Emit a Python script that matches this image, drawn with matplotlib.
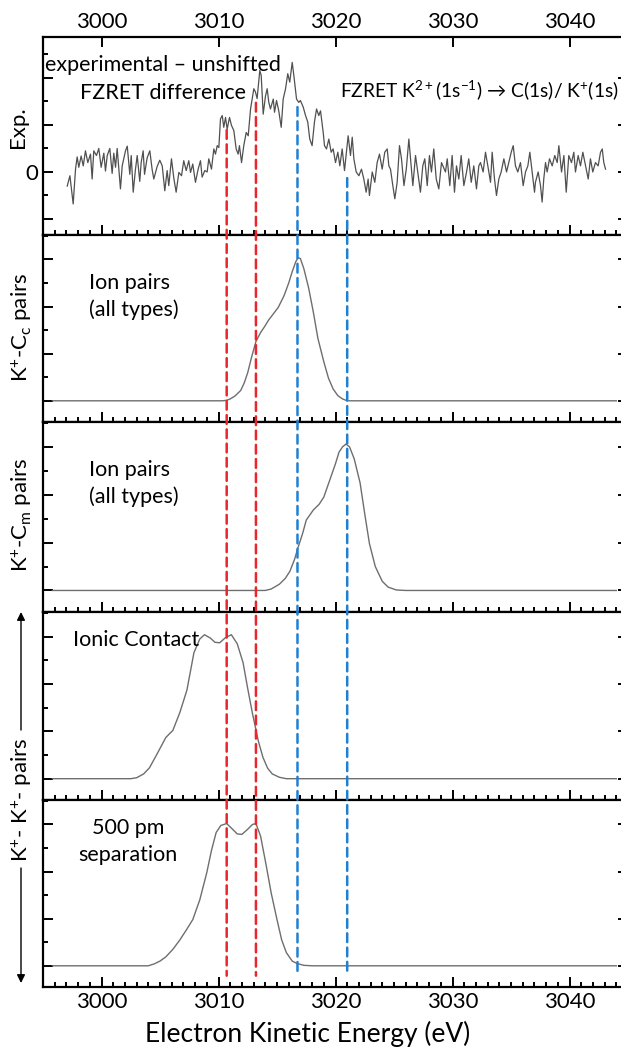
import numpy as np
import matplotlib.pyplot as plt
from matplotlib.patches import ConnectionPatch
from matplotlib.ticker import MultipleLocator, FixedLocator, FixedFormatter

plt.rcParams['font.family'] = ['Lato', 'DejaVu Sans']
plt.rcParams['mathtext.fontset'] = 'custom'
plt.rcParams['mathtext.rm'] = 'Lato'
plt.rcParams['mathtext.it'] = 'Lato:italic'

# experimental - unshifted FZRET difference (top panel)
exp_energy = [
    2997.07, 2997.30, 2997.58, 2997.78, 2997.92, 2998.06, 2998.26, 2998.44, 2998.63, 2998.83,
    2999.06, 2999.20, 2999.34, 2999.57, 2999.77, 2999.97, 3000.20, 3000.34, 3000.49, 3000.71,
    3000.91, 3001.05, 3001.20, 3001.34, 3001.62, 3001.77, 3002.05, 3002.20, 3002.42, 3002.54,
    3002.71, 3002.90, 3003.05, 3003.27, 3003.39, 3003.56, 3003.68, 3003.90, 3004.13, 3004.33,
    3004.47, 3004.76, 3004.98,
    3005.19, 3005.41, 3005.61, 3005.75, 3005.98, 3006.18, 3006.38, 3006.61, 3006.84, 3007.03,
    3007.24, 3007.46, 3007.61, 3007.80, 3008.03, 3008.26, 3008.46, 3008.60, 3008.83, 3009.03,
    3009.17, 3009.40, 3009.60, 3009.74, 3009.89, 3010.03, 3010.17, 3010.32, 3010.45, 3010.60,
    3010.74, 3010.94, 3011.11, 3011.31, 3011.51, 3011.68, 3011.79, 3011.97, 3012.16, 3012.37,
    3012.54, 3012.74, 3012.88, 3013.02,
    3013.16, 3013.30, 3013.53, 3013.65, 3013.82, 3014.02, 3014.16, 3014.30, 3014.44, 3014.68,
    3014.79, 3014.96, 3015.15, 3015.36, 3015.53, 3015.73, 3015.92, 3016.09, 3016.30, 3016.44,
    3016.67, 3016.86, 3017.00, 3017.24, 3017.44, 3017.63, 3017.80, 3018.00, 3018.20, 3018.38,
    3018.57, 3018.72, 3018.95, 3019.06, 3019.23, 3019.43, 3019.63, 3019.80, 3020.00, 3020.20,
    3020.37, 3020.57, 3020.77,
    3021.08, 3021.28, 3021.43, 3021.57, 3021.77, 3022.00, 3022.22, 3022.42, 3022.62, 3022.79,
    3022.90, 3023.14, 3023.36, 3023.56, 3023.76, 3023.99, 3024.21, 3024.42, 3024.56, 3024.70,
    3024.90, 3025.07, 3025.27, 3025.47, 3025.64, 3025.85, 3026.05, 3026.27, 3026.44, 3026.61,
    3026.84, 3027.07, 3027.26, 3027.46, 3027.63, 3027.84, 3028.03, 3028.20, 3028.40, 3028.61,
    3028.83, 3029.06,
    3029.40, 3029.55, 3029.77, 3029.97, 3030.17, 3030.34, 3030.54, 3030.74, 3030.97, 3031.20,
    3031.39, 3031.60, 3031.82, 3032.05, 3032.25, 3032.39, 3032.62, 3032.82, 3033.02, 3033.25,
    3033.39, 3033.59, 3033.76, 3033.96, 3034.16, 3034.39, 3034.62, 3034.81, 3035.02, 3035.19,
    3035.38, 3035.58, 3035.81, 3036.04, 3036.24, 3036.44, 3036.61, 3036.81, 3037.01,
    3037.09, 3037.32, 3037.52, 3037.66, 3037.80, 3037.95, 3038.09, 3038.29, 3038.52, 3038.74,
    3038.95, 3039.09, 3039.32, 3039.52, 3039.72, 3039.94, 3040.17, 3040.37, 3040.51, 3040.74,
    3040.94, 3041.14, 3041.37, 3041.60, 3041.79, 3041.99, 3042.22, 3042.45, 3042.65, 3042.80,
    3042.93, 3043.08]
exp_signal = [
    -0.30, -0.08, -0.68, 0.06, 0.32, 0.10, 0.34, 0.13, 0.45, 0.20,
    0.38, -0.15, 0.45, 0.35, 0.50, 0.10, 0.40, 0.02, 0.35, 0.50,
    -0.03, 0.40, 0.10, 0.50, -0.36, 0.13, 0.45, 0.55, -0.05, 0.35,
    -0.43, 0.05, 0.35, -0.20, 0.20, 0.45, -0.05, 0.30, 0.45, 0.05,
    -0.15, 0.12, 0.25,
    0.13, -0.40, 0.03, -0.29, 0.28, -0.13, -0.43, -0.01, -0.08, 0.24,
    0.03, 0.24, -0.01, 0.17, -0.22, 0.06, 0.24, -0.11, 0.03, 0.00,
    0.28, 0.06, 0.49, 0.38, 0.56, 0.52, 1.13, 1.20, 0.95, 1.16,
    0.91, 1.16, 0.99, 0.88, 0.49, 0.38, 0.56, 0.20, 0.56, 0.84,
    0.77, 1.34, 1.55, 1.77,
    1.70, 1.56, 2.16, 2.05, 1.23, 1.62, 1.77, 1.48, 1.34, 1.55,
    1.27, 1.52, 1.30, 0.95, 1.55, 1.77, 2.09, 1.91, 2.33, 2.05,
    1.55, 1.48, 1.52, 1.38, 1.20, 1.06, 0.70, 0.56, 1.06, 1.34,
    1.20, 1.30, 0.84, 0.56, 0.49, 0.70, 0.42, 0.49, 0.20, 0.42,
    0.13, 0.49, 0.03,
    0.77, 0.35, 0.74, 0.28, 0.00, -0.08, 0.06, -0.15, -0.43, -0.15,
    -0.50, 0.00, -0.22, 0.20, 0.38, 0.06, 0.42, 0.49, 0.13, 0.06,
    -0.29, -0.57, -0.22, 0.56, 0.28, -0.29, 0.06, 0.70, 0.20, -0.29,
    0.35, -0.08, -0.43, 0.13, 0.28, -0.29, 0.35, 0.00, 0.49, -0.15,
    -0.36, 0.20,
    0.00, 0.28, -0.29, 0.35, -0.43, 0.13, -0.15, 0.35, -0.29, 0.00,
    0.28, -0.22, 0.13, -0.36, 0.13, 0.20, 0.00, 0.42, 0.13, -0.22,
    0.42, -0.15, -0.50, -0.15, 0.00, 0.28, 0.00, 0.20, 0.42, 0.56,
    0.13, 0.00, 0.20, -0.29, 0.00, 0.13, 0.42, 0.00, -0.43,
    -0.22, 0.00, -0.29, -0.64, -0.15, 0.20, 0.00, 0.28, 0.13, 0.35,
    0.20, 0.56, 0.00, 0.35, -0.43, 0.35, 0.20, 0.42, 0.00, 0.35,
    0.13, 0.42, 0.13, -0.15, 0.28, 0.00, 0.20, 0.13, 0.42, 0.49,
    0.20, 0.06]

# K+-Cc pairs (ion pairs, all types)
cc_energy = [2995.8, 3010.3, 3010.7, 3011.0, 3011.4, 3011.9, 3012.2, 3012.5, 3012.8, 3013.2,
             3013.6, 3013.9, 3014.3, 3014.7, 3015.1, 3015.6, 3016.0, 3016.3, 3016.6, 3016.8,
             3017.0, 3017.3, 3017.7, 3018.1, 3018.5, 3019.0, 3019.4, 3019.8, 3020.2, 3020.6,
             3021.0, 3044.0]
cc_value = [0.0, 0.0, 0.01, 0.04, 0.10, 0.22, 0.38, 0.60, 0.90, 1.26,
            1.45, 1.56, 1.72, 1.85, 1.98, 2.23, 2.50, 2.74, 2.95, 3.04,
            3.02, 2.80, 2.40, 1.89, 1.32, 0.83, 0.48, 0.25, 0.11, 0.04,
            0.0, 0.0]

# K+-Cm pairs (ion pairs, all types)
cm_energy = [2995.8, 3014.0, 3014.5, 3015.2, 3015.7, 3016.1, 3016.5, 3016.8, 3017.2, 3017.5,
             3018.1, 3018.6, 3019.0, 3019.5, 3020.0, 3020.3, 3020.6, 3020.9, 3021.2, 3021.6,
             3022.1, 3022.5, 3022.9, 3023.4, 3024.0, 3024.5, 3025.2, 3026.0, 3044.0]
cm_value = [0.0, 0.0, 0.03, 0.13, 0.25, 0.40, 0.65, 0.90, 1.20, 1.47,
            1.68, 1.80, 1.95, 2.30, 2.65, 2.89, 3.00, 3.06, 3.00, 2.75,
            2.25, 1.60, 0.98, 0.50, 0.19, 0.07, 0.01, 0.0, 0.0]

# K+-K+ pairs, ionic contact
contact_energy = [2995.8, 3002.5, 3003.0, 3003.6, 3004.1, 3004.7, 3005.5, 3006.1, 3006.7, 3007.3,
                  3007.9, 3008.4, 3008.8, 3009.3, 3009.7, 3010.1, 3010.6, 3011.1, 3011.6, 3012.1,
                  3012.5, 3012.9, 3013.4, 3013.8, 3014.2, 3014.6, 3015.2, 3015.8, 3044.0]
contact_value = [0.0, 0.0, 0.02, 0.10, 0.23, 0.50, 0.87, 1.02, 1.40, 1.87,
                 2.66, 2.95, 3.04, 2.97, 2.88, 2.87, 2.98, 3.04, 2.85, 2.45,
                 1.90, 1.38, 0.80, 0.45, 0.22, 0.10, 0.03, 0.0, 0.0]

# K+-K+ pairs, 500 pm separation
sep_energy = [2995.8, 3004.0, 3004.5, 3005.0, 3005.5, 3006.1, 3006.7, 3007.3, 3007.8, 3008.4,
              3009.0, 3009.4, 3009.8, 3010.2, 3010.7, 3011.2, 3011.6, 3012.0, 3012.5, 3012.9,
              3013.2, 3013.6, 3014.1, 3014.5, 3015.0, 3015.4, 3015.8, 3016.3, 3016.7, 3017.3,
              3018.0, 3044.0]
sep_value = [0.0, 0.0, 0.04, 0.10, 0.19, 0.35, 0.55, 0.78, 0.98, 1.40,
             1.98, 2.45, 2.83, 2.98, 3.02, 2.90, 2.80, 2.79, 2.90, 3.00,
             3.02, 2.75, 2.10, 1.55, 0.98, 0.55, 0.28, 0.10, 0.05, 0.01,
             0.0, 0.0]

# dashed marker lines: energy, top end (top panel units), bottom end (bottom panel units)
marker_energy = [3010.7, 3013.2, 3016.75, 3021.0]
marker_color = ['#e8262b', '#e8262b', '#1f80d0', '#1f80d0']
marker_top = [0.89, 1.47, 1.38, -0.13]
marker_bottom = [-0.21, -0.21, -0.15, -0.19]

W, H = 621, 1050
fig = plt.figure(figsize=(W / 100, H / 100), dpi=100)

left_px, right_px = 43, 628
edges = [37, 235, 422, 612, 800, 987]
axes = []
for i in range(5):
    top, bot = edges[i], edges[i + 1]
    ax = fig.add_axes([left_px / W, 1 - bot / H, (right_px - left_px) / W, (bot - top) / H])
    axes.append(ax)

gray = '#6e6e6e'
curves = [(cc_energy, cc_value), (cm_energy, cm_value),
          (contact_energy, contact_value), (sep_energy, sep_value)]

axes[0].plot(exp_energy, exp_signal, color='#505050', lw=0.9)
for ax, (xe, yv) in zip(axes[1:], curves):
    ax.plot(xe, yv, color=gray, lw=1.0)

for i, ax in enumerate(axes):
    ax.set_xlim(2995, 3045)
    ax.xaxis.set_major_locator(MultipleLocator(10))
    ax.xaxis.set_minor_locator(MultipleLocator(1))
    for s in ax.spines.values():
        s.set_linewidth(1.6)
    ax.tick_params(which='both', direction='in', width=1.4, right=True,
                   labelsize=16)
    ax.tick_params(which='major', length=7)
    ax.tick_params(which='minor', length=3.5)
    if i == 0:
        ax.set_ylim(-1.34, 2.87)
        ax.yaxis.set_major_locator(FixedLocator([-1, 0, 1, 2]))
        ax.yaxis.set_major_formatter(FixedFormatter(['', '0', '', '']))
        ax.yaxis.set_minor_locator(MultipleLocator(0.5))
        ax.tick_params(axis='x', top=True, labeltop=True, bottom=True, labelbottom=False)
    else:
        ax.set_ylim(-0.45, 3.52)
        ax.yaxis.set_major_locator(MultipleLocator(1))
        ax.yaxis.set_minor_locator(MultipleLocator(0.5))
        ax.tick_params(axis='y', labelleft=False)
        ax.tick_params(axis='x', top=False, labelbottom=(i == 4))

def fx(px):
    return px / W

def fy(py):
    return 1 - py / H

fig.text(fx(308), fy(1034), 'Electron Kinetic Energy (eV)', ha='center', va='center',
         fontsize=19)

# dashed guide lines across all panels
for xe, c, yt, yb in zip(marker_energy, marker_color, marker_top, marker_bottom):
    con = ConnectionPatch(xyA=(xe, yt), coordsA=axes[0].transData,
                          xyB=(xe, yb), coordsB=axes[4].transData,
                          color=c, lw=1.8, linestyle=(0, (3.5, 2.2)), zorder=5)
    fig.add_artist(con)

fs = 15.5
fig.text(fx(163), fy(65), 'experimental – unshifted', ha='center', va='center', fontsize=fs)
fig.text(fx(163), fy(93), 'FZRET difference', ha='center', va='center', fontsize=fs)
fig.text(fx(340), fy(90),
         r'FZRET K$^{\mathregular{2+}}$(1s$^{\mathregular{-1}}$) → C(1s)/ K$^{\mathregular{+}}$(1s)',
         ha='left', va='center', fontsize=13.9)
fig.text(fx(89), fy(283), 'Ion pairs', ha='left', va='center', fontsize=fs)
fig.text(fx(89), fy(310), '(all types)', ha='left', va='center', fontsize=fs)
fig.text(fx(89), fy(470), 'Ion pairs', ha='left', va='center', fontsize=fs)
fig.text(fx(89), fy(497), '(all types)', ha='left', va='center', fontsize=fs)
fig.text(fx(136), fy(640), 'Ionic Contact', ha='center', va='center', fontsize=fs)
fig.text(fx(128), fy(828), '500 pm', ha='center', va='center', fontsize=fs)
fig.text(fx(128), fy(855), 'separation', ha='center', va='center', fontsize=fs)

# y labels
fig.text(fx(18), fy(127), 'Exp.', rotation=90, ha='center', va='center', fontsize=16)
fig.text(fx(22), fy(327), r'K$^{\mathregular{+}}$-C$_{\mathregular{c}}$ pairs',
         rotation=90, ha='center', va='center', fontsize=16)
fig.text(fx(22), fy(515), r'K$^{\mathregular{+}}$-C$_{\mathregular{m}}$ pairs',
         rotation=90, ha='center', va='center', fontsize=16)
fig.text(fx(22), fy(800), r'K$^{\mathregular{+}}$- K$^{\mathregular{+}}$- pairs',
         rotation=90, ha='center', va='center', fontsize=16)
fig.add_artist(plt.Annotation('', xy=(fx(21), fy(612)), xytext=(fx(21), fy(730)),
                              xycoords='figure fraction', textcoords='figure fraction',
                              arrowprops=dict(arrowstyle='-|>', color='black', lw=1.0,
                                              mutation_scale=12, shrinkA=0, shrinkB=0)))
fig.add_artist(plt.Annotation('', xy=(fx(21), fy(983)), xytext=(fx(21), fy(868)),
                              xycoords='figure fraction', textcoords='figure fraction',
                              arrowprops=dict(arrowstyle='-|>', color='black', lw=1.0,
                                              mutation_scale=12, shrinkA=0, shrinkB=0)))

fig.savefig('out.png', dpi=100)
